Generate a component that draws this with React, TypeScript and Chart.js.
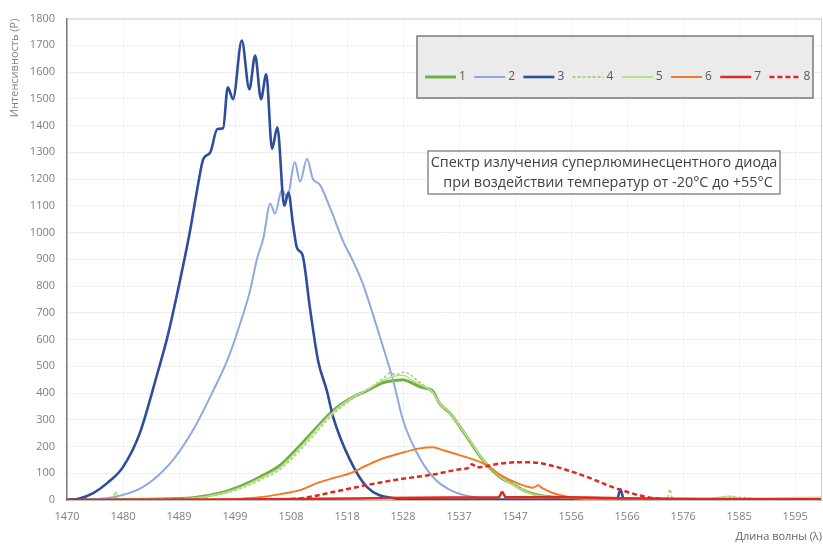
import { useEffect, useRef } from 'react';
import { Chart, registerables } from 'chart.js';

Chart.register(...registerables);

// ---- axis data ----
const X_MIN = 1470;
const X_MAX = 1599.6;
const X_TICK_VALUES = [1470, 1479.62, 1489.23, 1498.85, 1508.46, 1518.08, 1527.69, 1537.31, 1546.92, 1556.54, 1566.15, 1575.77, 1585.38, 1595];
const X_TICK_LABELS = ['1470', '1480', '1489', '1499', '1508', '1518', '1528', '1537', '1547', '1556', '1566', '1576', '1585', '1595'];
const Y_MIN = 0;
const Y_MAX = 1800;
const Y_STEP = 100;

const X_TITLE = 'Длина волны (λ)';
const Y_TITLE = 'Интенсивность (P)';
const NOTE_LINES = ['Спектр излучения суперлюминесцентного диода', 'при воздействии температур от -20°C до +55°C'];

// ---- series data (wavelength, intensity) ----
const S1_WL = [1470, 1484.3, 1491.6, 1496.3, 1500.2, 1503.1, 1506.6, 1510.0, 1512.9, 1515.7, 1518.6, 1521.5, 1524.3, 1526.0, 1527.7, 1529.4, 1531.1, 1532.7, 1534.0, 1535.8, 1538.7, 1541.4, 1544.3, 1546.5, 1548.5, 1551, 1555, 1560, 1570, 1599.6];
const S1_VAL = [0, 3, 8, 26, 56, 86, 130, 204, 272, 335, 379, 409, 439, 446, 450, 435, 420, 409, 360, 323, 234, 149, 86, 60, 35, 18, 8, 3, 1, 1];

const S2_WL = [1470, 1474, 1477.9, 1483.0, 1487.7, 1491.6, 1495.1, 1497.5, 1499.7, 1501.4, 1502.6, 1503.7, 1504.9, 1505.7, 1506.9, 1507.8, 1509.1, 1510.0, 1511.2, 1512.2, 1513.4, 1515.2, 1517.4, 1519.1, 1520.8, 1522.5, 1524.3, 1526.0, 1527.7, 1530.1, 1532.8, 1535.8, 1539.7, 1544.3, 1550, 1599.6];
const S2_VAL = [0, 2, 10, 48, 137, 260, 409, 521, 658, 781, 900, 978, 1108, 1071, 1160, 1130, 1264, 1190, 1276, 1201, 1179, 1090, 967, 893, 807, 695, 569, 446, 297, 175, 86, 37, 11, 4, 1, 0];

const S3_WL = [1470, 1472, 1474.5, 1477, 1479.6, 1482.5, 1485.5, 1487.2, 1488.9, 1491.1, 1491.6, 1492.5, 1493.4, 1494.6, 1495.8, 1496.8, 1497.6, 1498.5, 1500.0, 1501.3, 1502.3, 1503.3, 1504.2, 1505.2, 1506.1, 1507.3, 1508.0, 1508.8, 1509.5, 1510.4, 1511.7, 1513.1, 1514.6, 1515.7, 1518.6, 1521.5, 1526.0, 1530, 1545, 1564.4, 1565, 1565.6, 1580, 1599.6];
const S3_VAL = [0, 5, 26, 65, 123, 250, 472, 606, 770, 1004, 1067, 1180, 1275, 1300, 1387, 1390, 1543, 1499, 1718, 1536, 1662, 1499, 1592, 1313, 1394, 1100, 1150, 1030, 941, 918, 718, 521, 409, 309, 149, 48, 7, 2, 1, 1, 40, 1, 0, 0];

const S4_WL = [1470, 1477.8, 1478.3, 1478.8, 1484, 1491.6, 1496.3, 1500.2, 1503.1, 1506.6, 1510, 1512.9, 1515.7, 1518.6, 1521.5, 1524.3, 1525.5, 1526.5, 1527.7, 1528.7, 1530, 1531.5, 1532.7, 1534, 1535.8, 1538.7, 1541.4, 1544.3, 1547.3, 1550, 1554, 1560, 1566, 1573, 1573.5, 1574, 1580, 1585, 1590, 1599.6];
const S4_VAL = [0, 0, 32, 2, 3, 6, 20, 46, 74, 115, 186, 255, 322, 372, 412, 455, 476, 468, 478, 472, 450, 425, 400, 365, 325, 238, 152, 90, 50, 22, 10, 4, 2, 1, 40, 2, 3, 10, 4, 6];

const S5_WL = [1470, 1484, 1491.6, 1496.3, 1500.2, 1503.1, 1506.6, 1510, 1512.9, 1515.7, 1518.6, 1521.5, 1524.3, 1526, 1527.7, 1529.4, 1531.1, 1532.7, 1534, 1535.8, 1538.7, 1541.4, 1544.3, 1547.3, 1550, 1554, 1560, 1570, 1580, 1584, 1586, 1592, 1599.6];
const S5_VAL = [0, 3, 7, 23, 50, 80, 122, 195, 265, 330, 378, 412, 448, 462, 466, 445, 428, 405, 362, 322, 236, 150, 88, 48, 21, 10, 4, 2, 6, 14, 4, 8, 10];

const S6_WL = [1470, 1490, 1500, 1503.1, 1506.6, 1510.0, 1512.9, 1515.7, 1518.6, 1521.5, 1524.3, 1527.2, 1530.6, 1532.8, 1534.6, 1537.5, 1539.7, 1542.1, 1544.3, 1547.3, 1550.0, 1550.9, 1551.6, 1553.4, 1555.9, 1560.3, 1570, 1599.6];
const S6_VAL = [0, 1, 5, 10, 22, 37, 63, 82, 100, 130, 156, 175, 193, 197, 186, 167, 152, 130, 95, 63, 46, 55, 44, 26, 12, 4, 1, 0];

const S7_WL = [1470, 1500, 1520, 1535, 1544.1, 1544.7, 1545.3, 1555, 1565, 1580, 1599.6];
const S7_VAL = [0, 2, 6, 9, 10, 30, 10, 10, 7, 4, 3];

const S8_WL = [1470, 1501.4, 1505, 1510.0, 1515.7, 1521.5, 1527.2, 1532.8, 1537.5, 1538.9, 1539.5, 1540.4, 1544.3, 1547.3, 1548.3, 1551.2, 1554.1, 1556.9, 1559.8, 1562.7, 1566.2, 1569.6, 1571.8, 1575, 1599.6];
const S8_VAL = [0, 0, 2, 6, 30, 56, 78, 95, 115, 120, 134, 122, 136, 141, 141, 138, 123, 104, 82, 56, 30, 11, 5, 0, 0];

const SERIES_LABELS = ['1', '2', '3', '4', '5', '6', '7', '8'];

const SERIES = [
  { wl: S1_WL, val: S1_VAL, color: '#6fb140', width: 3, dash: [] as number[] },
  { wl: S2_WL, val: S2_VAL, color: '#8eaadc', width: 2, dash: [] as number[] },
  { wl: S3_WL, val: S3_VAL, color: '#2e4d9c', width: 2.6, dash: [] as number[] },
  { wl: S4_WL, val: S4_VAL, color: '#a6d16f', width: 1.5, dash: [3, 2] },
  { wl: S5_WL, val: S5_VAL, color: '#bcdc8f', width: 1.5, dash: [] as number[] },
  { wl: S6_WL, val: S6_VAL, color: '#f07a2a', width: 2, dash: [] as number[] },
  { wl: S7_WL, val: S7_VAL, color: '#dc2a1f', width: 2.5, dash: [] as number[] },
  { wl: S8_WL, val: S8_VAL, color: '#dc2a1f', width: 2.5, dash: [5, 3] },
];

const FONT = "'Open Sans', 'Noto Sans', sans-serif";

const overlayPlugin = {
  id: 'overlay',
  afterDraw(chart: any) {
    const { ctx, chartArea: ca } = chart;
    ctx.save();
    // plot frame (top & right)
    ctx.strokeStyle = '#cfcfcf';
    ctx.lineWidth = 1;
    ctx.beginPath();
    ctx.moveTo(ca.left, ca.top + 0.5);
    ctx.lineTo(ca.right - 0.5, ca.top + 0.5);
    ctx.lineTo(ca.right - 0.5, ca.bottom);
    ctx.stroke();

    // legend box
    const lx = 417, ly = 36, lw = 396, lh = 62;
    ctx.fillStyle = '#ebebeb';
    ctx.fillRect(lx, ly, lw, lh);
    ctx.strokeStyle = '#7a7a7a';
    ctx.lineWidth = 1.5;
    ctx.strokeRect(lx, ly, lw, lh);
    const iy = 77;
    ctx.font = `12px ${FONT}`;
    ctx.textBaseline = 'middle';
    ctx.textAlign = 'left';
    chart.data.datasets.forEach((ds: any, i: number) => {
      const x0 = 425 + i * 49.2;
      ctx.save();
      ctx.strokeStyle = ds.borderColor;
      ctx.lineWidth = Math.max(ds.borderWidth, 2);
      ctx.setLineDash(ds.borderDash || []);
      ctx.beginPath();
      ctx.moveTo(x0, iy);
      ctx.lineTo(x0 + 31, iy);
      ctx.stroke();
      ctx.restore();
      ctx.fillStyle = '#595959';
      ctx.fillText(ds.label, x0 + 34, iy);
    });

    // annotation box
    const bx = 428, by = 151, bw = 352, bh = 43;
    ctx.fillStyle = '#ffffff';
    ctx.fillRect(bx, by, bw, bh);
    ctx.strokeStyle = '#8c8c8c';
    ctx.lineWidth = 1.5;
    ctx.strokeRect(bx, by, bw, bh);
    ctx.fillStyle = '#404040';
    ctx.font = `14.4px ${FONT}`;
    ctx.textAlign = 'center';
    ctx.fillText(NOTE_LINES[0], bx + bw / 2, by + 12);
    ctx.fillText(NOTE_LINES[1], bx + bw / 2 + 4, by + 32);
    ctx.restore();
  },
};

export default function App() {
  const ref = useRef<HTMLCanvasElement | null>(null);
  useEffect(() => {
    if (!ref.current) return;
    const datasets = SERIES.map((s, i) => ({
      label: SERIES_LABELS[i],
      data: s.wl.map((x, k) => ({ x, y: s.val[k] })),
      borderColor: s.color,
      backgroundColor: s.color,
      borderWidth: s.width,
      borderDash: s.dash,
      pointRadius: 0,
      fill: false,
      cubicInterpolationMode: 'monotone' as const,
      order: SERIES.length - i,
    }));
    const chart = new Chart(ref.current, {
      type: 'line',
      data: { datasets },
      options: {
        animation: false,
        responsive: false,
        layout: { padding: { top: 16, right: 1, left: 0, bottom: 0 } },
        plugins: { legend: { display: false }, tooltip: { enabled: false } },
        scales: {
          x: {
            type: 'linear',
            min: X_MIN,
            max: X_MAX,
            afterBuildTicks: (scale: any) => {
              scale.ticks = X_TICK_VALUES.map((v) => ({ value: v }));
            },
            afterFit: (scale: any) => {
              scale.height = 45;
            },
            ticks: {
              autoSkip: false,
              maxRotation: 0,
              padding: 10,
              color: '#7f7f7f',
              font: { family: FONT, size: 11 },
              callback: (_v: any, i: number) => X_TICK_LABELS[i],
            },
            grid: { color: '#f1f1f1', drawTicks: false },
            border: { display: true, color: '#bfbfbf', width: 1 },
            title: {
              display: true,
              text: X_TITLE,
              align: 'end',
              color: '#666666',
              font: { family: FONT, size: 11 },
              padding: { top: 0, bottom: 2 },
            },
          },
          y: {
            min: Y_MIN,
            max: Y_MAX,
            afterFit: (scale: any) => {
              scale.width = 67;
            },
            ticks: {
              stepSize: Y_STEP,
              padding: 12,
              color: '#7f7f7f',
              font: { family: FONT, size: 11 },
              callback: (v: any) => String(v),
            },
            grid: { color: '#eeeeee', drawTicks: false },
            border: { display: true, color: '#7a7a7a', width: 1.5 },
            title: {
              display: true,
              text: Y_TITLE,
              align: 'end',
              color: '#808080',
              font: { family: FONT, size: 11 },
              padding: { top: 8, bottom: 0 },
            },
          },
        },
      },
      plugins: [overlayPlugin],
    });
    return () => chart.destroy();
  }, []);
  return (
    <div style={{ position: 'fixed', left: 0, top: 0, width: 823, height: 545, background: '#ffffff' }}>
      <canvas ref={ref} width={823} height={545} />
    </div>
  );
}
